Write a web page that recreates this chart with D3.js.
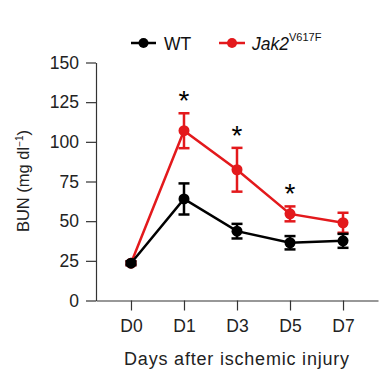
<!DOCTYPE html>
<html><head><meta charset="utf-8">
<script src="https://cdn.jsdelivr.net/npm/d3@7"></script>
<style>body{margin:0;background:#fff}svg{display:block}</style>
</head><body>
<script>
const days = ["D0","D1","D3","D5","D7"];
const wtMean = [23.5, 64, 43.7, 36.4, 37.6];
const wtErr  = [1.2, 9.8, 4.6, 4.2, 4.4];
const jakMean = [23.5, 107, 82.4, 54.6, 49];
const jakErr  = [1.2, 11, 13.8, 4.7, 6.3];
const stars = ["D1","D3","D5"];
const yTicks = [0,25,50,75,100,125,150];

const W=380,H=379;
const svg=d3.select("body").append("svg").attr("width",W).attr("height",H)
  .style("font-family","'Liberation Sans', Arial, sans-serif");
const x=d3.scalePoint().domain(days).range([96,378]).padding(0.66);
const y=d3.scaleLinear().domain([0,150]).range([300.5,62.5]);
const axisCol="#333";

const ya=svg.append("g").attr("transform","translate(96,0)")
  .call(d3.axisLeft(y).tickValues(yTicks).tickSize(10).tickSizeOuter(0).tickPadding(7));
const xa=svg.append("g").attr("transform","translate(0,300.5)")
  .call(d3.axisBottom(x).tickSize(10).tickSizeOuter(0).tickPadding(9));
[ya,xa].forEach(g=>{
  g.selectAll("path,line").attr("stroke",axisCol).attr("stroke-width",1.2);
  g.selectAll("text").attr("fill","#222").style("font-size","17.5px").style("font-family","'Liberation Sans', Arial, sans-serif");
});

svg.append("text").attr("transform","translate(29,181) rotate(-90)")
  .attr("text-anchor","middle").style("font-size","16.5px").attr("fill","#222")
  .html('BUN (mg dl<tspan dy="-6" font-size="10">−1</tspan><tspan dy="6">)</tspan>');
svg.append("text").attr("x",237).attr("y",365).attr("text-anchor","middle")
  .style("font-size","18px").style("letter-spacing","0.8px").attr("fill","#222").text("Days after ischemic injury");

const series=[
  {mean:wtMean, err:wtErr, color:"#000"},
  {mean:jakMean, err:jakErr, color:"#e3191c"}
];
const line=d3.line().x((d,i)=>x(days[i])).y(d=>y(d));
series.slice().reverse().forEach(s=>{
  const g=svg.append("g");
  g.append("path").attr("d",line(s.mean)).attr("fill","none").attr("stroke",s.color).attr("stroke-width",2.5);
  s.mean.forEach((m,i)=>{
    const cx=x(days[i]), t=y(m+s.err[i]), b=y(m-s.err[i]);
    g.append("line").attr("x1",cx).attr("x2",cx).attr("y1",t).attr("y2",b).attr("stroke",s.color).attr("stroke-width",2.5);
    [t,b].forEach(v=>g.append("line").attr("x1",cx-5.5).attr("x2",cx+5.5).attr("y1",v).attr("y2",v).attr("stroke",s.color).attr("stroke-width",2.5));
    g.append("circle").attr("cx",cx).attr("cy",y(m)).attr("r",5.5).attr("fill",s.color);
  });
});

stars.forEach(d=>{
  const i=days.indexOf(d);
  svg.append("text").attr("x",x(d)).attr("y",y(jakMean[i]+jakErr[i])-3)
    .attr("text-anchor","middle").style("font-size","28px").attr("fill","#000").text("*");
});

// legend
const lg=svg.append("g");
[[131,156,"#000"],[219,245,"#e3191c"]].forEach(([a,b,c])=>{
  lg.append("line").attr("x1",a).attr("x2",b).attr("y1",43).attr("y2",43).attr("stroke",c).attr("stroke-width",2.5);
  lg.append("circle").attr("cx",(a+b)/2).attr("cy",43).attr("r",5).attr("fill",c);
});
lg.append("text").attr("x",164).attr("y",49.5).style("font-size","17.5px").attr("fill","#111").text("WT");
lg.append("text").attr("x",252).attr("y",49.5).style("font-size","17.5px").attr("fill","#111")
  .html('<tspan font-style="italic">Jak2</tspan><tspan dy="-9" font-size="11">V617F</tspan>');
</script>
</body></html>
